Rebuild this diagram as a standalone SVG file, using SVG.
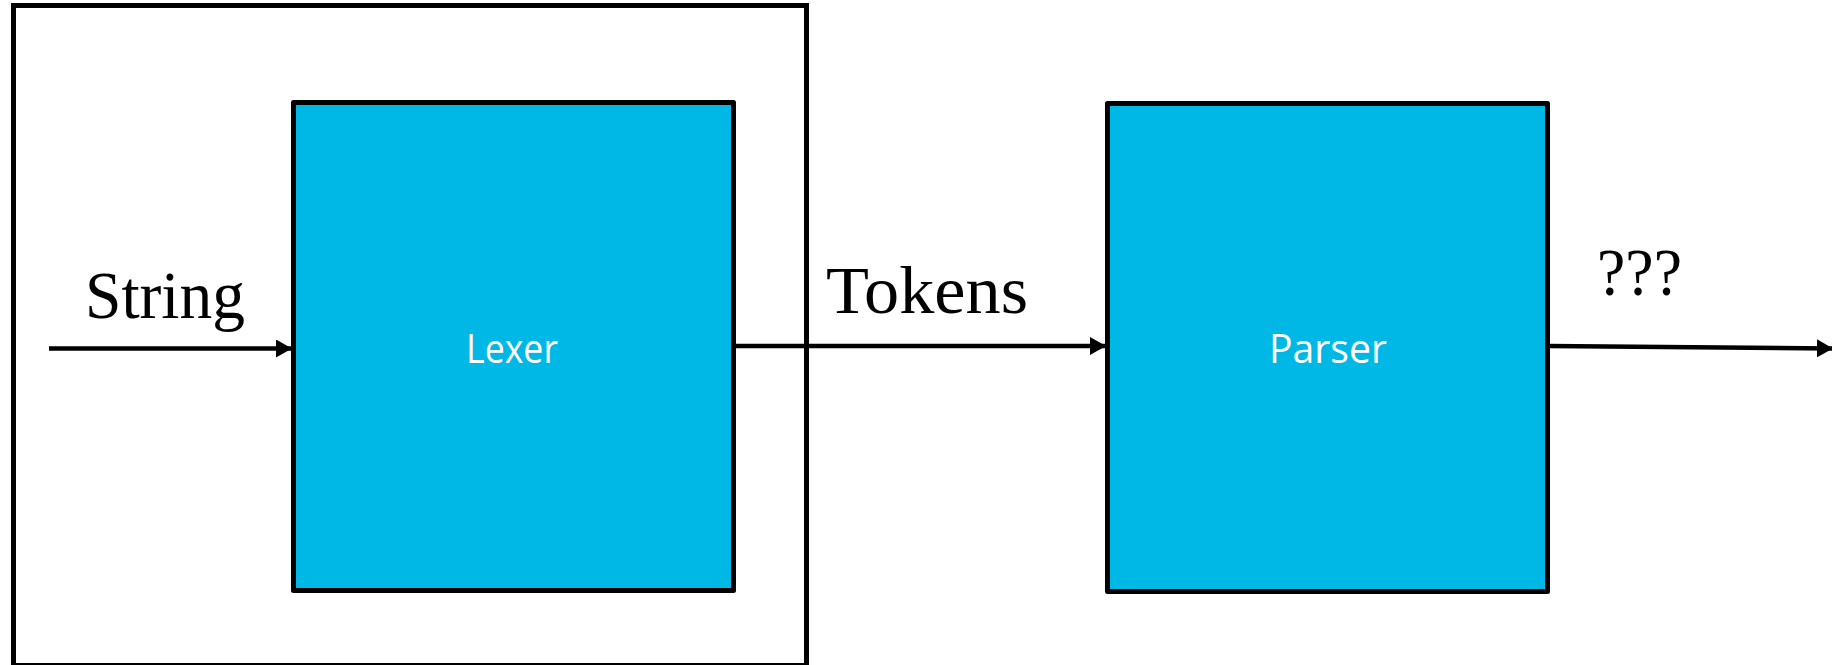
<svg xmlns="http://www.w3.org/2000/svg" width="1832" height="665" viewBox="0 0 1832 665">
<style>
.box{fill:#00B8E5;stroke:#000;stroke-width:5;stroke-linejoin:round}
.frame{fill:none;stroke:#000;stroke-width:5}
.lbl{font-family:"Open Sans","Liberation Sans",sans-serif;font-size:41px;fill:#fff;text-anchor:middle}
.ser{font-family:"Liberation Serif","DejaVu Serif",serif;font-size:68px;fill:#000}
.conn{stroke:#000;stroke-width:4.5;fill:none}
</style>
<defs>
<marker id="ah" markerWidth="16" markerHeight="18" refX="15" refY="9" orient="auto" markerUnits="userSpaceOnUse">
<path d="M0,0 L16,9 L0,18 Z" fill="#000"/>
</marker>
</defs>
<g id="frame">
<rect class="frame" x="13.5" y="5.5" width="793" height="660"/>
</g>
<g id="lexer">
<rect class="box" x="293.5" y="102.5" width="440" height="488"/>
<text class="lbl" x="512" y="363" textLength="92" lengthAdjust="spacingAndGlyphs">Lexer</text>
</g>
<g id="parser">
<rect class="box" x="1107.5" y="103.5" width="440" height="488"/>
<text class="lbl" x="1328" y="363" textLength="118" lengthAdjust="spacingAndGlyphs">Parser</text>
</g>
<g id="connectors">
<line class="conn" x1="49" y1="348.5" x2="291" y2="348.5" marker-end="url(#ah)"/>
<line class="conn" x1="734" y1="346" x2="1105" y2="346" marker-end="url(#ah)"/>
<line class="conn" x1="1548" y1="346" x2="1832" y2="348.5" marker-end="url(#ah)"/>
</g>
<g id="labels">
<text class="ser" x="85" y="318" textLength="160" lengthAdjust="spacingAndGlyphs">String</text>
<text class="ser" x="826" y="313" textLength="202" lengthAdjust="spacingAndGlyphs">Tokens</text>
<text class="ser" x="1597" y="295" textLength="85" lengthAdjust="spacingAndGlyphs">???</text>
</g>
</svg>
